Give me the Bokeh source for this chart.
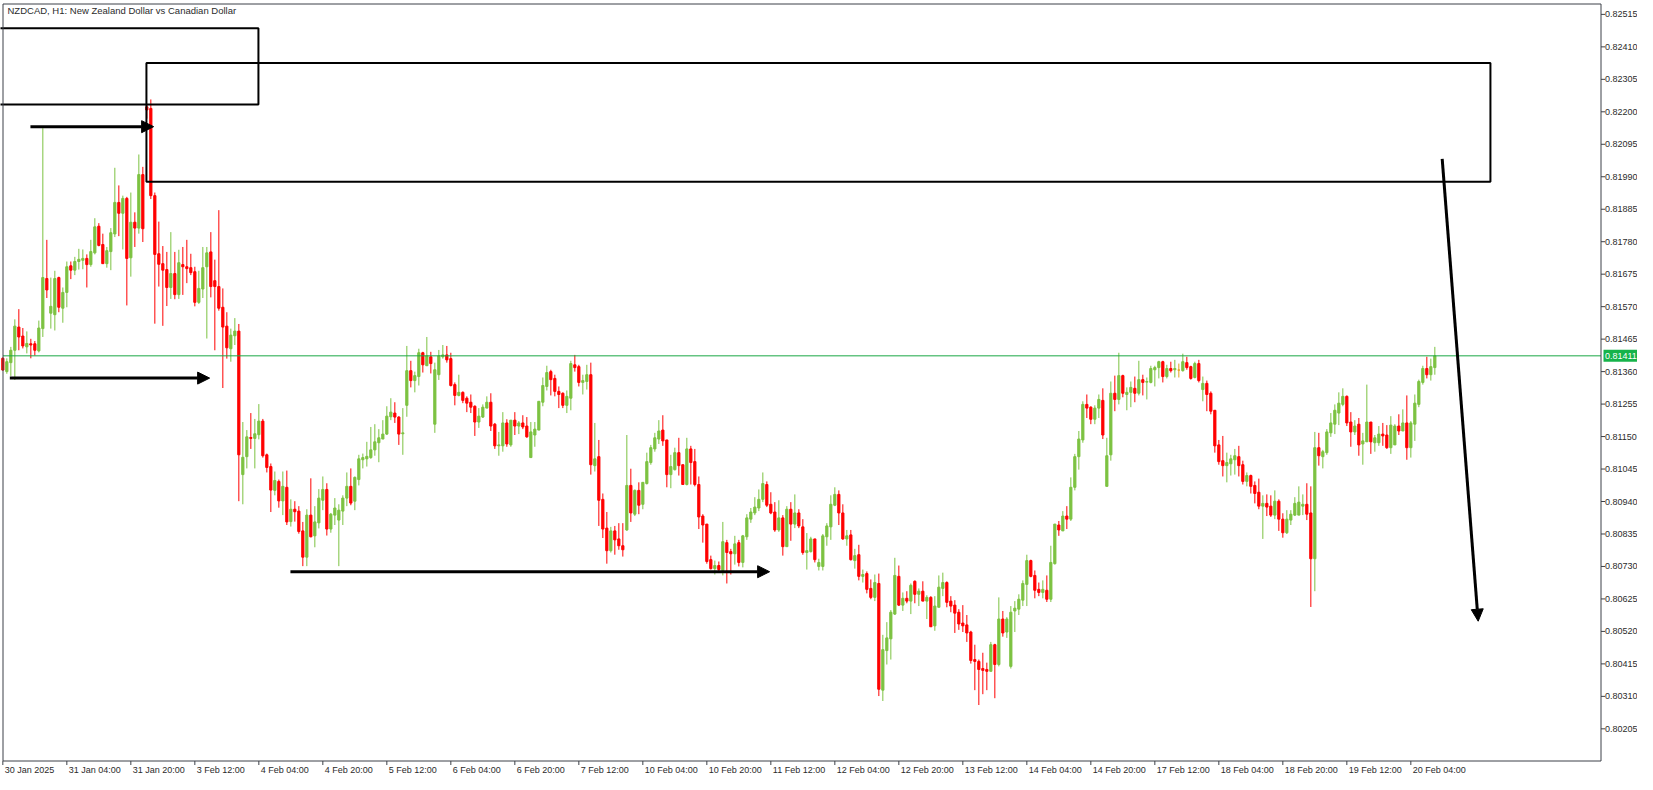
import numpy as np
from bokeh.plotting import figure
from bokeh.models import Range1d, Arrow, NormalHead, ColumnDataSource
from bokeh.embed import file_html
from bokeh.resources import INLINE

# ---------------- data ----------------
chart_title = "NZDCAD, H1:  New Zealand Dollar vs Canadian Dollar"

time_tick_bars = [0, 16, 32, 48, 64, 80, 96, 112, 128, 144, 160, 176, 192, 208, 224, 240,
                  256, 272, 288, 304, 320, 336, 352]
time_tick_labels = ["30 Jan 2025", "31 Jan 04:00", "31 Jan 20:00", "3 Feb 12:00", "4 Feb 04:00",
                    "4 Feb 20:00", "5 Feb 12:00", "6 Feb 04:00", "6 Feb 20:00", "7 Feb 12:00",
                    "10 Feb 04:00", "10 Feb 20:00", "11 Feb 12:00", "12 Feb 04:00", "12 Feb 20:00",
                    "13 Feb 12:00", "14 Feb 04:00", "14 Feb 20:00", "17 Feb 12:00", "18 Feb 04:00",
                    "18 Feb 20:00", "19 Feb 12:00", "20 Feb 04:00"]

price_ticks = [0.80205, 0.80310, 0.80415, 0.80520, 0.80625, 0.80730, 0.80835, 0.80940,
               0.81045, 0.81150, 0.81255, 0.81360, 0.81465, 0.81570, 0.81675, 0.81780,
               0.81885, 0.81990, 0.82095, 0.82200, 0.82305, 0.82410, 0.82515]

bar_open = [
0.81403,0.81360,0.81389,0.81429,0.81504,0.81475,0.81440,0.81450,0.81450,0.81427,
0.81499,0.81661,0.81549,0.81544,0.81664,0.81565,0.81616,0.81702,0.81688,0.81716,
0.81720,0.81726,0.81706,0.81744,0.81830,0.81771,0.81709,0.81748,0.81805,0.81907,
0.81872,0.81920,0.81728,0.81843,0.81824,0.81997,0.82216,0.82211,0.81929,0.81741,
0.81709,0.81690,0.81632,0.81677,0.81609,0.81706,0.81699,0.81696,0.81683,0.81584,
0.81627,0.81699,0.81747,0.81654,0.81635,0.81568,0.81507,0.81434,0.81476,0.81491,
0.81027,0.81085,0.81147,0.81144,0.81156,0.81200,0.81091,0.81053,0.80976,0.81005,
0.80942,0.80986,0.80875,0.80915,0.80909,0.80845,0.80760,0.80896,0.80829,0.80871,
0.80944,0.80979,0.80851,0.80896,0.80880,0.80909,0.80951,0.80989,0.80941,0.81011,
0.81075,0.81078,0.81082,0.81107,0.81130,0.81142,0.81158,0.81214,0.81226,0.81213,
0.81159,0.81251,0.81363,0.81331,0.81344,0.81421,0.81379,0.81408,0.81190,0.81350,
0.81408,0.81414,0.81402,0.81318,0.81283,0.81293,0.81274,0.81261,0.81248,0.81197,
0.81213,0.81242,0.81261,0.81190,0.81120,0.81120,0.81194,0.81123,0.81203,0.81184,
0.81194,0.81184,0.81082,0.81155,0.81171,0.81261,0.81312,0.81360,0.81338,0.81296,
0.81290,0.81251,0.81274,0.81382,0.81376,0.81325,0.81328,0.81350,0.81056,0.81085,
0.80947,0.80854,0.80781,0.80845,0.80819,0.80797,0.80848,0.80992,0.80899,0.80976,
0.80931,0.80998,0.81066,0.81110,0.81142,0.81171,0.81139,0.81027,0.81043,0.81098,
0.81059,0.80995,0.81110,0.81069,0.80995,0.80893,0.80867,0.80752,0.80723,0.80733,
0.80717,0.80807,0.80778,0.80771,0.80807,0.80743,0.80826,0.80883,0.80903,0.80919,
0.80947,0.80995,0.80931,0.80906,0.80848,0.80887,0.80794,0.80915,0.80867,0.80903,
0.80858,0.80775,0.80778,0.80819,0.80730,0.80730,0.80826,0.80858,0.80928,0.80963,
0.80903,0.80819,0.80832,0.80749,0.80768,0.80698,0.80707,0.80659,0.80630,0.80675,
0.80330,0.80458,0.80496,0.80576,0.80698,0.80605,0.80627,0.80618,0.80682,0.80640,
0.80650,0.80618,0.80630,0.80538,0.80598,0.80659,0.80678,0.80618,0.80605,0.80582,
0.80547,0.80541,0.80518,0.80429,0.80423,0.80400,0.80397,0.80391,0.80477,0.80413,
0.80560,0.80518,0.80407,0.80586,0.80592,0.80621,0.80672,0.80749,0.80701,0.80656,
0.80646,0.80653,0.80624,0.80739,0.80864,0.80845,0.80893,0.80883,0.80986,0.81085,
0.81139,0.81254,0.81245,0.81206,0.81242,0.81267,0.80989,0.81091,0.81290,0.81270,
0.81347,0.81286,0.81293,0.81306,0.81290,0.81334,0.81326,0.81325,0.81366,0.81373,
0.81392,0.81344,0.81370,0.81366,0.81365,0.81363,0.81389,0.81376,0.81341,0.81386,
0.81302,0.81322,0.81290,0.81235,0.81123,0.81072,0.81056,0.81062,0.81075,0.81085,
0.81059,0.81005,0.81024,0.80992,0.80970,0.80925,0.80934,0.80925,0.80896,0.80941,
0.80883,0.80839,0.80880,0.80896,0.80896,0.80925,0.80931,0.80903,0.80755,0.81114,
0.81085,0.81098,0.81162,0.81190,0.81226,0.81254,0.81280,0.81197,0.81165,0.81190,
0.81126,0.81133,0.81197,0.81130,0.81130,0.81158,0.81155,0.81114,0.81123,0.81184,
0.81168,0.81194,0.81114,0.81190,0.81254,0.81325,0.81370,0.81350,0.81373]

bar_high = [
0.81406,0.81403,0.81440,0.81529,0.81562,0.81501,0.81490,0.81466,0.81459,0.81525,
0.82147,0.81786,0.81664,0.81686,0.81667,0.81632,0.81716,0.81716,0.81731,0.81757,
0.81755,0.81739,0.81786,0.81856,0.81840,0.81806,0.81763,0.81824,0.82019,0.81962,
0.81929,0.81925,0.81939,0.81875,0.82062,0.82022,0.82224,0.82240,0.81939,0.81845,
0.81766,0.81747,0.81811,0.81747,0.81754,0.81763,0.81786,0.81741,0.81699,0.81686,
0.81763,0.81763,0.81811,0.81722,0.81882,0.81629,0.81552,0.81499,0.81533,0.81514,
0.81197,0.81171,0.81226,0.81207,0.81255,0.81207,0.81095,0.81063,0.81037,0.81011,
0.81037,0.81040,0.80947,0.80941,0.80925,0.80874,0.80915,0.81015,0.80925,0.80980,
0.81021,0.80999,0.80903,0.80951,0.80931,0.80960,0.81034,0.81047,0.81021,0.81091,
0.81095,0.81133,0.81181,0.81190,0.81174,0.81203,0.81248,0.81274,0.81261,0.81216,
0.81242,0.81443,0.81395,0.81360,0.81434,0.81424,0.81472,0.81424,0.81389,0.81430,
0.81446,0.81443,0.81421,0.81325,0.81350,0.81296,0.81280,0.81286,0.81251,0.81242,
0.81254,0.81280,0.81290,0.81194,0.81165,0.81229,0.81206,0.81203,0.81229,0.81200,
0.81219,0.81213,0.81197,0.81197,0.81264,0.81341,0.81379,0.81366,0.81350,0.81312,
0.81293,0.81299,0.81395,0.81414,0.81382,0.81350,0.81382,0.81389,0.81194,0.81139,
0.80966,0.80906,0.80858,0.80861,0.80870,0.80870,0.81155,0.81046,0.80979,0.81002,
0.81002,0.81098,0.81123,0.81162,0.81203,0.81219,0.81139,0.81091,0.81114,0.81146,
0.81059,0.81146,0.81120,0.81110,0.81021,0.80899,0.80867,0.80765,0.80749,0.80746,
0.80874,0.80816,0.80787,0.80829,0.80816,0.80832,0.80899,0.80919,0.80954,0.80979,
0.81034,0.81005,0.80970,0.80938,0.80944,0.80896,0.80925,0.80938,0.80963,0.80915,
0.80883,0.80838,0.80826,0.80819,0.80755,0.80835,0.80870,0.80960,0.80986,0.80976,
0.80931,0.80848,0.80848,0.80787,0.80800,0.80720,0.80714,0.80688,0.80704,0.80707,
0.80509,0.80550,0.80589,0.80758,0.80733,0.80646,0.80650,0.80675,0.80685,0.80659,
0.80682,0.80637,0.80634,0.80634,0.80701,0.80710,0.80682,0.80634,0.80621,0.80592,
0.80605,0.80573,0.80522,0.80477,0.80429,0.80451,0.80419,0.80486,0.80480,0.80630,
0.80586,0.80566,0.80602,0.80618,0.80640,0.80685,0.80768,0.80752,0.80717,0.80678,
0.80685,0.80701,0.80797,0.80867,0.80877,0.80909,0.80925,0.81018,0.81094,0.81168,
0.81264,0.81286,0.81248,0.81251,0.81286,0.81306,0.81146,0.81328,0.81347,0.81421,
0.81350,0.81309,0.81328,0.81344,0.81395,0.81350,0.81341,0.81379,0.81379,0.81395,
0.81395,0.81382,0.81392,0.81398,0.81386,0.81418,0.81408,0.81379,0.81392,0.81398,
0.81344,0.81331,0.81296,0.81235,0.81139,0.81152,0.81098,0.81091,0.81110,0.81120,
0.81072,0.81034,0.81027,0.81005,0.81014,0.80960,0.80963,0.80960,0.80976,0.80947,
0.80902,0.80912,0.80912,0.80954,0.80989,0.80963,0.80999,0.80989,0.81165,0.81162,
0.81107,0.81174,0.81226,0.81254,0.81293,0.81306,0.81283,0.81229,0.81203,0.81210,
0.81162,0.81318,0.81197,0.81155,0.81184,0.81194,0.81187,0.81216,0.81190,0.81222,
0.81238,0.81283,0.81200,0.81286,0.81334,0.81379,0.81408,0.81402,0.81440]

bar_low = [
0.81363,0.81353,0.81346,0.81333,0.81429,0.81435,0.81419,0.81403,0.81412,0.81422,
0.81472,0.81598,0.81499,0.81493,0.81552,0.81518,0.81568,0.81659,0.81672,0.81690,
0.81691,0.81632,0.81699,0.81739,0.81765,0.81709,0.81696,0.81688,0.81795,0.81798,
0.81755,0.81574,0.81667,0.81763,0.81806,0.81779,0.82178,0.81918,0.81515,0.81635,
0.81508,0.81572,0.81595,0.81594,0.81595,0.81608,0.81646,0.81672,0.81571,0.81579,
0.81598,0.81467,0.81600,0.81429,0.81557,0.81307,0.81402,0.81392,0.81446,0.80941,
0.80931,0.81047,0.81110,0.81047,0.81141,0.81082,0.81034,0.80906,0.80960,0.80920,
0.80896,0.80864,0.80859,0.80875,0.80836,0.80731,0.80731,0.80824,0.80792,0.80853,
0.80912,0.80830,0.80839,0.80864,0.80731,0.80864,0.80925,0.80928,0.80912,0.80992,
0.81047,0.81053,0.81078,0.81088,0.81067,0.81142,0.81155,0.81203,0.81194,0.81123,
0.81091,0.81214,0.81309,0.81293,0.81315,0.81357,0.81379,0.81354,0.81162,0.81333,
0.81402,0.81389,0.81312,0.81251,0.81280,0.81258,0.81229,0.81226,0.81152,0.81178,
0.81210,0.81248,0.81168,0.81110,0.81088,0.81101,0.81117,0.81117,0.81155,0.81158,
0.81174,0.81146,0.81082,0.81117,0.81171,0.81248,0.81299,0.81283,0.81280,0.81242,
0.81242,0.81226,0.81235,0.81360,0.81312,0.81286,0.81302,0.81027,0.81037,0.80861,
0.80822,0.80739,0.80775,0.80768,0.80784,0.80762,0.80845,0.80874,0.80893,0.80899,
0.80915,0.80995,0.81059,0.81101,0.81126,0.81120,0.80986,0.80983,0.81040,0.81024,
0.80995,0.80992,0.80995,0.80989,0.80851,0.80807,0.80739,0.80720,0.80704,0.80715,
0.80701,0.80675,0.80704,0.80736,0.80730,0.80727,0.80816,0.80871,0.80896,0.80909,
0.80938,0.80922,0.80899,0.80842,0.80842,0.80765,0.80794,0.80813,0.80854,0.80854,
0.80768,0.80720,0.80775,0.80743,0.80717,0.80717,0.80797,0.80816,0.80925,0.80864,
0.80816,0.80797,0.80749,0.80723,0.80685,0.80678,0.80643,0.80624,0.80618,0.80311,
0.80295,0.80413,0.80429,0.80573,0.80602,0.80586,0.80611,0.80576,0.80611,0.80602,
0.80618,0.80560,0.80535,0.80522,0.80598,0.80634,0.80598,0.80582,0.80515,0.80525,
0.80518,0.80486,0.80416,0.80330,0.80282,0.80317,0.80330,0.80391,0.80304,0.80407,
0.80503,0.80499,0.80400,0.80518,0.80573,0.80602,0.80602,0.80695,0.80627,0.80634,
0.80627,0.80615,0.80615,0.80736,0.80829,0.80845,0.80851,0.80877,0.80976,0.81043,
0.81130,0.81210,0.81190,0.81190,0.81210,0.81142,0.80989,0.81072,0.81232,0.81254,
0.81277,0.81235,0.81245,0.81261,0.81283,0.81283,0.81270,0.81322,0.81312,0.81338,
0.81325,0.81338,0.81357,0.81341,0.81341,0.81360,0.81366,0.81334,0.81338,0.81325,
0.81264,0.81232,0.81222,0.81098,0.81059,0.81021,0.81002,0.81024,0.81027,0.81021,
0.80995,0.80989,0.80966,0.80934,0.80915,0.80819,0.80893,0.80890,0.80883,0.80845,
0.80823,0.80835,0.80864,0.80893,0.80896,0.80896,0.80880,0.80599,0.80650,0.81056,
0.81047,0.81091,0.81149,0.81158,0.81187,0.81248,0.81184,0.81117,0.81155,0.81088,
0.81059,0.81133,0.81094,0.81101,0.81120,0.81120,0.81110,0.81094,0.81123,0.81155,
0.81168,0.81075,0.81082,0.81136,0.81245,0.81318,0.81338,0.81331,0.81350]

bar_close = [
0.81365,0.81392,0.81429,0.81507,0.81472,0.81443,0.81451,0.81446,0.81429,0.81501,
0.81664,0.81624,0.81571,0.81661,0.81568,0.81616,0.81699,0.81688,0.81716,0.81723,
0.81726,0.81706,0.81748,0.81828,0.81768,0.81709,0.81751,0.81809,0.81907,0.81872,
0.81920,0.81726,0.81843,0.81824,0.81997,0.81822,0.82206,0.81929,0.81739,0.81707,
0.81688,0.81632,0.81677,0.81609,0.81712,0.81699,0.81693,0.81680,0.81584,0.81629,
0.81696,0.81744,0.81635,0.81635,0.81565,0.81504,0.81437,0.81478,0.81491,0.81091,
0.81083,0.81149,0.81144,0.81159,0.81200,0.81088,0.81050,0.80977,0.81008,0.80942,
0.80989,0.80874,0.80915,0.80907,0.80843,0.80760,0.80896,0.80826,0.80874,0.80951,
0.80979,0.80851,0.80899,0.80919,0.80912,0.80951,0.80989,0.80935,0.81018,0.81078,
0.81082,0.81086,0.81107,0.81133,0.81146,0.81158,0.81216,0.81229,0.81213,0.81158,
0.81162,0.81363,0.81331,0.81347,0.81421,0.81382,0.81411,0.81386,0.81366,0.81411,
0.81414,0.81398,0.81315,0.81283,0.81293,0.81267,0.81258,0.81245,0.81197,0.81216,
0.81245,0.81261,0.81184,0.81120,0.81123,0.81194,0.81126,0.81203,0.81184,0.81194,
0.81181,0.81149,0.81165,0.81174,0.81264,0.81315,0.81357,0.81334,0.81296,0.81286,
0.81251,0.81280,0.81386,0.81373,0.81325,0.81331,0.81350,0.81059,0.81078,0.80944,
0.80851,0.80781,0.80845,0.80816,0.80797,0.80784,0.80992,0.80903,0.80976,0.80928,
0.81002,0.81069,0.81114,0.81146,0.81168,0.81136,0.81027,0.81053,0.81098,0.81056,
0.80995,0.81110,0.81066,0.80995,0.80890,0.80864,0.80746,0.80723,0.80733,0.80720,
0.80810,0.80775,0.80771,0.80803,0.80743,0.80829,0.80887,0.80906,0.80922,0.80947,
0.80998,0.80928,0.80903,0.80848,0.80887,0.80794,0.80915,0.80867,0.80903,0.80861,
0.80775,0.80781,0.80819,0.80752,0.80743,0.80829,0.80861,0.80931,0.80963,0.80903,
0.80819,0.80829,0.80752,0.80765,0.80698,0.80704,0.80656,0.80630,0.80678,0.80333,
0.80461,0.80499,0.80582,0.80701,0.80605,0.80627,0.80618,0.80669,0.80640,0.80650,
0.80618,0.80630,0.80535,0.80602,0.80663,0.80678,0.80614,0.80602,0.80579,0.80544,
0.80538,0.80515,0.80426,0.80423,0.80397,0.80394,0.80391,0.80477,0.80413,0.80560,
0.80515,0.80560,0.80582,0.80595,0.80624,0.80675,0.80749,0.80698,0.80653,0.80646,
0.80656,0.80624,0.80743,0.80867,0.80848,0.80893,0.80883,0.80986,0.81085,0.81142,
0.81254,0.81242,0.81206,0.81242,0.81270,0.81155,0.81088,0.81290,0.81270,0.81347,
0.81290,0.81293,0.81309,0.81290,0.81334,0.81325,0.81328,0.81370,0.81373,0.81392,
0.81344,0.81370,0.81363,0.81370,0.81365,0.81392,0.81373,0.81338,0.81386,0.81331,
0.81322,0.81286,0.81232,0.81120,0.81069,0.81056,0.81066,0.81078,0.81088,0.81056,
0.81005,0.81024,0.80989,0.80966,0.80925,0.80934,0.80922,0.80896,0.80941,0.80883,
0.80839,0.80883,0.80899,0.80934,0.80938,0.80931,0.80899,0.80755,0.81114,0.81088,
0.81101,0.81165,0.81194,0.81235,0.81258,0.81280,0.81194,0.81165,0.81184,0.81123,
0.81136,0.81197,0.81133,0.81146,0.81158,0.81152,0.81114,0.81187,0.81184,0.81168,
0.81194,0.81114,0.81194,0.81258,0.81328,0.81370,0.81350,0.81376,0.81411]

current_price = 0.81411

# drawn objects (bar index, price)
zone_left = [-3.0, 35.9]
zone_right = [63.9, 371.9]
zone_top = [0.82470, 0.82358]
zone_bottom = [0.82224, 0.81974]

arrow_x_start = [6.9, 1.75, 71.9, 359.84]
arrow_x_end = [37.7, 51.7, 191.7, 368.84]
arrow_y_start = [0.82152, 0.81339, 0.80713, 0.82048]
arrow_y_end = [0.82152, 0.81339, 0.80713, 0.80553]

# ---------------- layout / styling ----------------
BULL = "#7dc242"
BEAR = "#ff0000"
DOJI = "#e3a21a"
FRAME = "#3d4148"
TEXT = "#2b2b2b"
PRICE_LINE = "#1aa845"
TAG = "#16b34a"
FONT = "Liberation Sans"

W, H = 1637, 774
PX_PER_BAR = 4.0
X0 = -0.5825                     # bar value at the left canvas edge
X1 = X0 + W / PX_PER_BAR
Y1 = 0.825599                    # price at the top canvas edge
PRICE_PER_PX = 3.23326e-5
Y0 = Y1 - H * PRICE_PER_PX

# chart box edges, given in canvas pixels
BOX_L_PX, BOX_R_PX, BOX_T_PX, BOX_B_PX = 2.5, 1600.5, 3.5, 760.5
BOX_LEFT = X0 + BOX_L_PX / PX_PER_BAR
BOX_RIGHT = X0 + BOX_R_PX / PX_PER_BAR
BOX_TOP = Y1 - BOX_T_PX * PRICE_PER_PX
BOX_BOTTOM = Y1 - BOX_B_PX * PRICE_PER_PX

p = figure(width=W, height=H, output_backend="svg", toolbar_location=None,
           x_range=Range1d(X0, X1), y_range=Range1d(Y0, Y1),
           x_axis_type=None, y_axis_type=None,
           min_border_left=0, min_border_right=0, min_border_top=0, min_border_bottom=0,
           background_fill_color="white", border_fill_color="white",
           outline_line_color=None)
p.grid.visible = False

# candles
o = np.array(bar_open); h = np.array(bar_high); l = np.array(bar_low); c = np.array(bar_close)
idx = np.arange(len(o))
colors = np.where(c > o, BULL, np.where(c < o, BEAR, DOJI))
src = ColumnDataSource(dict(x=idx, o=o, h=h, l=l, c=c,
                            top=np.maximum(o, c), bottom=np.minimum(o, c), color=colors))
p.segment(x0="x", y0="l", x1="x", y1="h", source=src, line_color="color", line_width=1)
p.vbar(x="x", top="top", bottom="bottom", width=0.55, source=src,
       fill_color="color", line_color="color", line_width=1)

# current price line across the chart box
p.segment(x0=[BOX_LEFT], y0=[current_price], x1=[BOX_RIGHT], y1=[current_price],
          line_color=PRICE_LINE, line_width=1)

# zones
p.quad(left=zone_left, right=zone_right, top=zone_top, bottom=zone_bottom,
       fill_alpha=0, line_color="black", line_width=2)

# arrows
for xs, ys, xe, ye in zip(arrow_x_start, arrow_y_start, arrow_x_end, arrow_y_end):
    p.add_layout(Arrow(end=NormalHead(size=12, fill_color="black", line_color="black", line_width=1),
                       x_start=xs, y_start=ys, x_end=xe, y_end=ye,
                       line_color="black", line_width=3))

# chart box frame
p.multi_line(xs=[[BOX_LEFT, BOX_RIGHT, BOX_RIGHT, BOX_LEFT, BOX_LEFT]],
             ys=[[BOX_TOP, BOX_TOP, BOX_BOTTOM, BOX_BOTTOM, BOX_TOP]],
             line_color=FRAME, line_width=1)

# price scale (right)
tick_len_bars = 4 / PX_PER_BAR
p.segment(x0=[BOX_RIGHT] * len(price_ticks), y0=price_ticks,
          x1=[BOX_RIGHT + tick_len_bars] * len(price_ticks), y1=price_ticks,
          line_color=FRAME, line_width=1)
p.text(x=[BOX_RIGHT] * len(price_ticks), y=price_ticks,
       text=[f"{v:.5f}" for v in price_ticks], x_offset=4,
       text_baseline="middle", text_align="left", text_font={"value": FONT},
       text_font_size="9px", text_color=TEXT)

# current price tag
p.rect(x=[BOX_RIGHT + 19.5 / PX_PER_BAR], y=[current_price], width=34, height=12,
       width_units="screen", height_units="screen", fill_color=TAG, line_color=None)
p.text(x=[BOX_RIGHT], y=[current_price], text=[f"{current_price:.5f}"], x_offset=4,
       text_baseline="middle", text_align="left", text_font={"value": FONT},
       text_font_size="9px", text_color="white")

# time scale (bottom)
tick_len_price = 4 * PRICE_PER_PX
p.segment(x0=time_tick_bars, y0=[BOX_BOTTOM] * len(time_tick_bars),
          x1=time_tick_bars, y1=[BOX_BOTTOM - tick_len_price] * len(time_tick_bars),
          line_color=FRAME, line_width=1)
p.text(x=time_tick_bars, y=[BOX_BOTTOM] * len(time_tick_bars), text=time_tick_labels,
       x_offset=2, y_offset=4, text_baseline="top", text_align="left",
       text_font={"value": FONT}, text_font_size="9px", text_color=TEXT)

# title inside the chart
p.text(x=[BOX_LEFT], y=[BOX_TOP], text=[chart_title], x_offset=4.5, y_offset=6,
       text_baseline="middle", text_align="left", text_font={"value": FONT},
       text_font_size="9.5px", text_color=TEXT)

open("out.html", "w").write(file_html(p, INLINE))
